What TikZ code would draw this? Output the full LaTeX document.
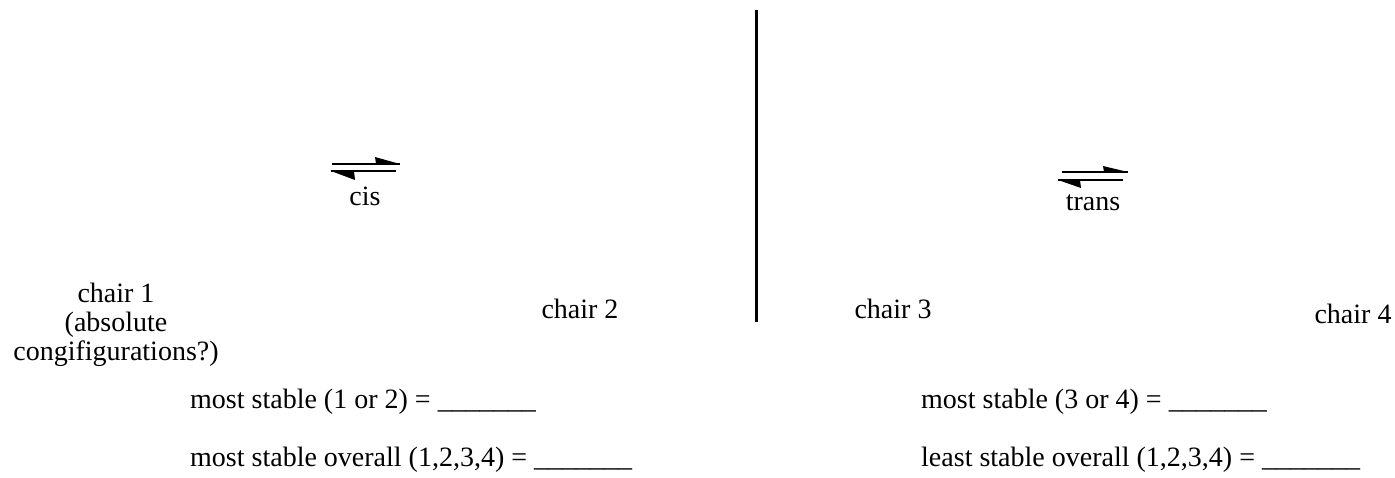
\documentclass[tikz,border=0pt]{standalone}
\usepackage{fontspec}
\setmainfont{Liberation Serif}
\begin{document}
\begin{tikzpicture}[x=1pt,y=-1pt,
  lbl/.style={inner sep=0pt,anchor=base,font=\fontsize{28}{29}\selectfont},
  eqline/.style={line width=2pt},
  barb/.style={fill=black}]
\useasboundingbox (0,0) rectangle (1395,477);
% divider
\draw[line width=3pt] (756,10) coordinate (dtop) -- (756,322) coordinate (dbot);
% cis equilibrium arrows
\coordinate (c1a) at (332,164); \coordinate (c1b) at (400,164);
\coordinate (c2a) at (331,171); \coordinate (c2b) at (396,171);
\draw[eqline] (c1a) -- (c1b);
\fill[barb] (c1b) -- (375,157) -- (376,164) -- cycle;
\draw[eqline] (c2b) -- (c2a);
\fill[barb] (c2a) -- (355,180) -- (354,171) -- cycle;
% trans equilibrium arrows
\coordinate (t1a) at (1062,172); \coordinate (t1b) at (1128,172);
\coordinate (t2a) at (1058,180); \coordinate (t2b) at (1123,180);
\draw[eqline] (t1a) -- (t1b);
\fill[barb] (t1b) -- (1103,166) -- (1104,172) -- cycle;
\draw[eqline] (t2b) -- (t2a);
\fill[barb] (t2a) -- (1081,188) -- (1080,180) -- cycle;
% labels
\node[lbl] (cis) at (365,205) {cis};
\node[lbl] (trans) at (1093,210) {trans};
\node[lbl] (ch1a) at (116,302) {chair 1};
\node[lbl] (ch1b) at (116,331) {(absolute};
\node[lbl] (ch1c) at (116,360) {congif\kern0pt igurations?)};
\node[lbl] (ch2) at (580,318) {chair 2};
\node[lbl] (ch3) at (893,318) {chair 3};
\node[lbl] (ch4) at (1353,323) {chair 4};
\node[lbl,anchor=base west] (q1) at (190,408) {most stable (1 or 2) = \_\_\_\_\_\_\_};
\node[lbl,anchor=base west] (q2) at (190,466) {most stable overall (1,2,3,4) = \_\_\_\_\_\_\_};
\node[lbl,anchor=base west] (q3) at (921,408) {most stable (3 or 4) = \_\_\_\_\_\_\_};
\node[lbl,anchor=base west] (q4) at (921,466) {least stable overall (1,2,3,4) = \_\_\_\_\_\_\_};
\end{tikzpicture}
\end{document}
